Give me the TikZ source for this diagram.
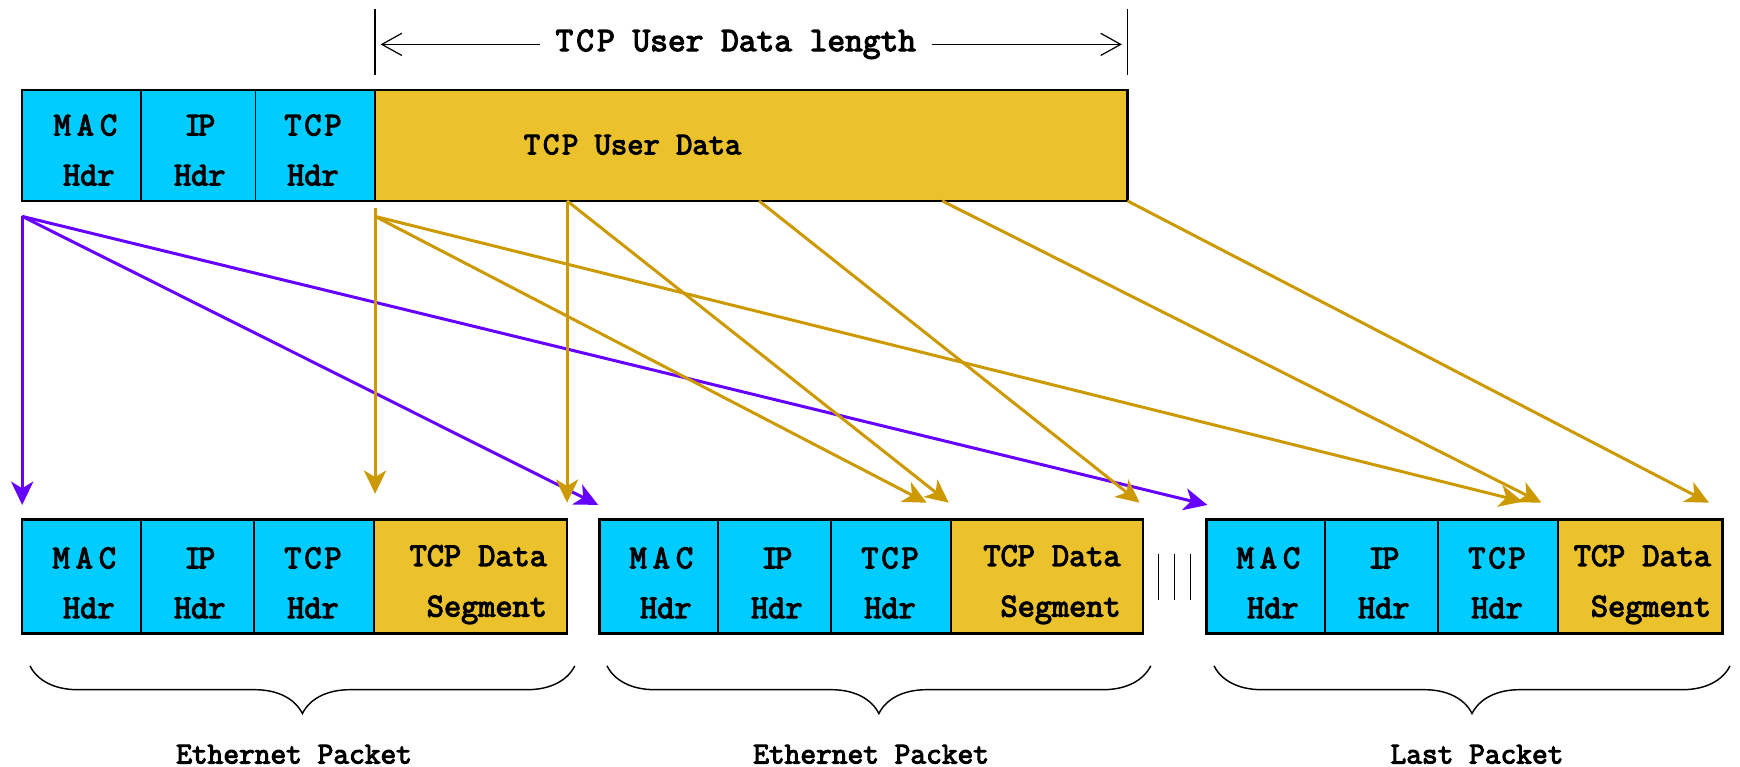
\documentclass[tikz,border=0pt]{standalone}
\usepackage{fontspec}
\setmonofont{Latin Modern Mono}[BoldFont=Latin Modern Mono, BoldFeatures={FakeBold=3.5}]
\newfontfamily\widemono{Latin Modern Mono}[LetterSpace=18, BoldFont=Latin Modern Mono, BoldFeatures={FakeBold=3.5}]
\newfontfamily\semimono{Latin Modern Mono}[LetterSpace=9, BoldFont=Latin Modern Mono, BoldFeatures={FakeBold=3.5}]
\newfontfamily\tightmono{Latin Modern Mono}[LetterSpace=-10, BoldFont=Latin Modern Mono, BoldFeatures={FakeBold=3.5}]
\usetikzlibrary{arrows.meta,decorations.pathreplacing}

\definecolor{hdrblue}{HTML}{00CCFF}
\definecolor{datagold}{HTML}{EBC22C}
\definecolor{arrgold}{HTML}{CC9900}
\definecolor{arrviolet}{HTML}{6600FF}

\tikzset{
  hdrcell/.style={draw=black, line width=1.3pt, fill=hdrblue, inner sep=0pt, outer sep=0pt, anchor=north west},
  datacell/.style={draw=black, line width=1.3pt, fill=datagold, inner sep=0pt, outer sep=0pt, anchor=north west},
  frame/.style={draw=black, line width=2.3pt},
  lbl/.style={inner sep=0pt, anchor=base, font=\fontsize{30}{34}\selectfont\ttfamily\bfseries},
  pktlbl/.style={inner sep=0pt, anchor=base, font=\fontsize{27.5}{31}\selectfont\ttfamily\bfseries},
  goldarrow/.style={draw=arrgold, line width=2.7pt, -{Stealth[length=21pt,width=20pt,inset=6pt]}},
  violetarrow/.style={draw=arrviolet, line width=2.7pt, -{Stealth[length=21pt,width=20pt,inset=6pt]}},
  dimline/.style={draw=black, line width=1.1pt, -{Straight Barb[length=18pt,width=20pt,line width=1.1pt]}, shorten >=5pt},
  tickline/.style={draw=black, line width=1.1pt},
  braceline/.style={draw=black, line width=1.3pt, decorate, decoration={brace, amplitude=43pt}},
  sepline/.style={draw=black, line width=1.3pt}
}

\begin{document}
\begin{tikzpicture}[x=1pt, y=1pt]
\useasboundingbox (0,0) rectangle (1568,-691);

% ---- dimension line over the user data ----
\coordinate (dimL) at (338,-40);
\coordinate (dimR) at (1016,-40);
\draw[tickline] (338,-8) -- (338,-68);
\draw[tickline] (1016,-8) -- (1016,-68);
\node[inner xsep=14pt, inner ysep=0pt, anchor=base, font=\fontsize{31}{35}\selectfont\ttfamily\bfseries]
  (dimtxt) at (663,-46) {{\semimono\bfseries TCP} User Data length};
\draw[dimline] (dimtxt.west |- dimL) -- (dimL);
\draw[dimline] (dimtxt.east |- dimR) -- (dimR);

% ---- the original segment ----
\node[hdrcell, minimum width=107pt, minimum height=100pt] (top-mac) at (20,-81) {};
\node[hdrcell, minimum width=103pt, minimum height=100pt] (top-ip) at (top-mac.north east) {};
\node[hdrcell, minimum width=108pt, minimum height=100pt] (top-tcp) at (top-ip.north east) {};
\node[datacell, minimum width=678pt, minimum height=100pt] (top-data) at (top-tcp.north east) {};
\draw[frame] (top-mac.north west) rectangle (top-data.south east);

\node[lbl] (top-mac-a) at (77,-122) {{\widemono\bfseries MAC}};
\node[lbl] (top-mac-b) at (80,-167) {Hdr};
\node[lbl] (top-ip-a) at (180,-122) {{\tightmono\bfseries IP}};
\node[lbl] (top-ip-b) at (180,-167) {Hdr};
\node[lbl] (top-tcp-a) at (282,-122) {{\semimono\bfseries TCP}};
\node[lbl] (top-tcp-b) at (282,-167) {Hdr};
\node[lbl, font=\fontsize{28.5}{32}\selectfont\ttfamily\bfseries] (top-data-a) at (570,-139) {{\semimono\bfseries TCP} User Data};

% ---- the packets ----
\foreach \n/\x/\w/\r in {p1/20/174/18, p2/540/173/20, p3/1087/148/10} {
  \node[hdrcell, minimum width=107pt, minimum height=103pt] (\n-mac) at (\x,-468) {};
  \node[hdrcell, minimum width=102pt, minimum height=103pt] (\n-ip) at (\n-mac.north east) {};
  \node[hdrcell, minimum width=108pt, minimum height=103pt] (\n-tcp) at (\n-ip.north east) {};
  \node[datacell, minimum width=\w pt, minimum height=103pt] (\n-data) at (\n-tcp.north east) {};
  \draw[frame] (\n-mac.north west) rectangle (\n-data.south east);

  \node[lbl] (\n-mac-a) at (\x+56,-512) {{\widemono\bfseries MAC}};
  \node[lbl] (\n-mac-b) at (\x+60,-557) {Hdr};
  \node[lbl] (\n-ip-a) at (\x+160,-512) {{\tightmono\bfseries IP}};
  \node[lbl] (\n-ip-b) at (\x+160,-557) {Hdr};
  \node[lbl] (\n-tcp-a) at (\x+262,-512) {{\semimono\bfseries TCP}};
  \node[lbl] (\n-tcp-b) at (\x+262,-557) {Hdr};
  \node[lbl, anchor=base east] (\n-data-a) at ([xshift=-\r pt]\n-data.east |- 0,-510) {TCP Data};
  \node[lbl, anchor=base east] (\n-data-b) at ([xshift=-\r pt]\n-data.east |- 0,-555.5) {Segment};

  \draw[braceline] ([xshift=7pt]\n-data.south east |- 0,-600) -- ([xshift=7pt]\n-mac.south west |- 0,-600);
}
\node[pktlbl] (p1-cap) at (265,-688) {Ethernet Packet};
\node[pktlbl] (p2-cap) at (785,-688) {Ethernet Packet};
\node[pktlbl] (p3-cap) at (1331,-688) {Last Packet};

% ---- more packets follow ----
\foreach \sx in {1044,1058.5,1073} \draw[sepline] (\sx,-499) -- (\sx,-541);

% ---- start and end points of the copy arrows ----
\coordinate (hsrc) at (20,-195);
\coordinate (dsrc0) at (338,-195);
\coordinate (dsrcv) at (338,-187);
\coordinate (dsrc1) at (511,-181);
\coordinate (dsrc2) at (684,-181);
\coordinate (dsrc3) at (849,-181);
\coordinate (dsrc4) at (1016,-181);

\coordinate (h1) at (20,-455);
\coordinate (h2) at (539,-455);
\coordinate (h3) at (1088,-455);
\coordinate (d1a) at (338,-445);
\coordinate (d1b) at (511,-453);
\coordinate (d2a) at (835,-453);
\coordinate (d2b) at (855,-453);
\coordinate (d2c) at (1027,-453);
\coordinate (d3a) at (1372,-452);
\coordinate (d3b) at (1389,-453);
\coordinate (d3c) at (1540,-453);

% headers copied into every packet
\draw[violetarrow] (hsrc) -- (h1);
\draw[violetarrow] (hsrc) -- (h2);
\draw[violetarrow] (hsrc) -- (h3);

% slices of the user data
\draw[goldarrow] (dsrcv) -- (d1a);
\draw[goldarrow] (dsrc0) -- (d2a);
\draw[goldarrow] (dsrc0) -- (d3a);
\draw[goldarrow] (dsrc1) -- (d1b);
\draw[goldarrow] (dsrc1) -- (d2b);
\draw[goldarrow] (dsrc2) -- (d2c);
\draw[goldarrow] (dsrc3) -- (d3b);
\draw[goldarrow] (dsrc4) -- (d3c);
\end{tikzpicture}
\end{document}
